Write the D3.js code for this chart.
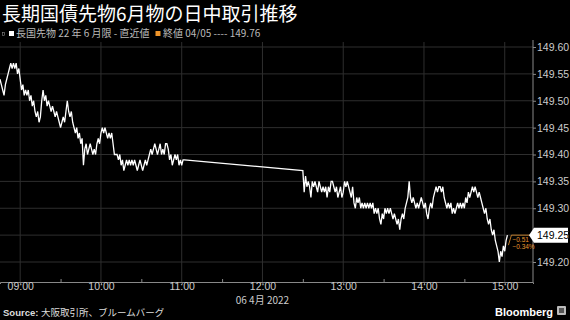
<!DOCTYPE html>
<html><head><meta charset="utf-8">
<script src="https://cdn.jsdelivr.net/npm/d3@7"></script>
<style>
html,body{margin:0;padding:0;background:#000;}
svg{display:block;}
</style></head>
<body>
<svg id="c" width="570" height="320"></svg>
<script>
// ---- data ----
const chartTitle = "長期国債先物6月物の日中取引推移";
const seriesName = "長国先物 22 年 6 月限 - 直近値";
const closeLabel = "終値 04/05 ---- 149.76";
const sourceText = "大阪取引所、ブルームバーグ";
const dateLabel = "06 4月 2022";
const prevClose = 149.76;
const yTicks = [149.20, 149.25, 149.30, 149.35, 149.40, 149.45, 149.50, 149.55, 149.60];
const xTickLabels = ["09:00","10:00","11:00","12:00","13:00","14:00","15:00"];
const amStart = "08:45";
const amValues = [
 149.54,149.53,149.52,149.51,149.53,149.54,149.55,149.56,149.57,149.56,
 149.57,149.56,149.57,149.55,149.56,149.54,149.52,149.53,149.51,149.52,
 149.51,149.52,149.50,149.51,149.49,149.50,149.48,149.47,149.48,149.46,
 149.47,149.50,149.52,149.50,149.51,149.49,149.50,149.49,149.48,149.49,
 149.48,149.47,149.48,149.47,149.46,149.45,149.46,149.47,149.46,149.48,
 149.50,149.48,149.47,149.48,149.46,149.45,149.44,149.45,149.43,149.44,
 149.42,149.43,149.38,149.41,149.42,149.40,149.41,149.42,149.41,149.40,
 149.41,149.40,149.42,149.43,149.42,149.44,149.45,149.44,149.45,149.44,
 149.43,149.44,149.43,149.44,149.42,149.40,149.40,149.40,149.39,149.40,
 149.38,149.39,149.37,149.38,149.39,149.38,149.39,149.38,149.39,149.38,
 149.39,149.38,149.37,149.38,149.39,149.38,149.37,149.38,149.39,149.38,
 149.39,149.40,149.41,149.40,149.41,149.42,149.41,149.40,149.41,149.42,
 149.40,149.41,149.40,149.42,149.42,149.41,149.39,149.40,149.38,149.39,
 149.40,149.39,149.40,149.38,149.39,149.38,149.39,149.39
];
const pmStart = "12:30";
const pmValues = [
 149.37,149.33,149.36,149.34,149.35,149.34,149.32,149.35,149.34,149.35,
 149.34,149.33,149.35,149.34,149.33,149.34,149.33,149.34,149.32,149.34,
 149.33,149.35,149.35,149.34,149.33,149.34,149.32,149.33,149.34,149.32,
 149.33,149.35,149.34,149.35,149.34,149.33,149.32,149.34,149.31,149.30,
 149.32,149.31,149.32,149.30,149.31,149.30,149.31,149.30,149.31,149.30,
 149.31,149.30,149.31,149.29,149.30,149.29,149.30,149.28,149.27,149.29,
 149.28,149.30,149.29,149.30,149.29,149.30,149.29,149.28,149.29,149.28,
 149.27,149.28,149.26,149.28,149.29,149.28,149.30,149.31,149.32,149.35,
 149.32,149.31,149.32,149.31,149.30,149.31,149.30,149.31,149.32,149.31,
 149.30,149.31,149.29,149.28,149.30,149.31,149.30,149.32,149.33,149.34,
 149.33,149.34,149.34,149.33,149.34,149.32,149.31,149.30,149.31,149.30,
 149.31,149.29,149.30,149.29,149.30,149.31,149.30,149.31,149.30,149.31,
 149.30,149.32,149.31,149.33,149.32,149.33,149.34,149.33,149.34,149.33,
 149.32,149.33,149.32,149.31,149.30,149.29,149.30,149.28,149.27,149.28,
 149.26,149.25,149.26,149.24,149.23,149.22,149.20,149.22,149.21,149.23,
 149.22,149.24,149.25
];

// ---- build ----
const day = "2022-04-06 ";
const parse = d3.timeParse("%Y-%m-%d %H:%M");
const t0 = parse(day + amStart), t1 = parse(day + pmStart);
const data = [
  ...amValues.map((v,i)=>({t:d3.timeMinute.offset(t0,i), v})),
  ...pmValues.map((v,i)=>({t:d3.timeMinute.offset(t1,i), v}))
];
const last = data[data.length-1];

const svg = d3.select("#c");
const W = 570, H = 320;
const plotL = 0, plotR = 533, plotT = 40, plotB = 282;
const x = d3.scaleTime().domain([parse(day+"08:45"), parse(day+"15:21")]).range([plotL, plotR]);
const y = d3.scaleLinear().domain([149.20, 149.60]).range([262, 47]);
const cjk = "'Noto Sans CJK JP','Noto Sans',sans-serif";
const latin = "'Liberation Sans',Arial,sans-serif";

svg.append("rect").attr("width",W).attr("height",H).attr("fill","#000");

// title
svg.append("text").attr("x",2).attr("y",20.5).attr("fill","#fff")
  .attr("font-family",cjk).attr("font-size",19).attr("font-weight",400).text(chartTitle);

// legend
svg.append("rect").attr("x",2.5).attr("y",32.5).attr("width",2).attr("height",3).attr("fill","none").attr("stroke","#888").attr("stroke-width",0.6);
svg.append("rect").attr("x",9).attr("y",31).attr("width",5).attr("height",5).attr("fill","#fff");
svg.append("text").attr("x",16).attr("y",37).attr("fill","#bbb")
  .attr("font-family",cjk).attr("font-size",10).text(seriesName);
svg.append("rect").attr("x",155.5).attr("y",31).attr("width",5).attr("height",5).attr("fill","#f0952a");
svg.append("text").attr("x",163).attr("y",37).attr("fill","#bbb")
  .attr("font-family",cjk).attr("font-size",10).text(closeLabel);

// grid
const hourTicks = xTickLabels.map(s=>parse(day+s));
svg.append("g").selectAll("line").data(hourTicks).join("line")
  .attr("x1",d=>x(d)).attr("x2",d=>x(d)).attr("y1",plotT+2).attr("y2",plotB)
  .attr("stroke","#2e2e2e").attr("stroke-width",1);
svg.append("g").selectAll("line").data(yTicks).join("line")
  .attr("x1",plotL).attr("x2",plotR).attr("y1",d=>y(d)).attr("y2",d=>y(d))
  .attr("stroke","#2e2e2e").attr("stroke-width",1);

// x axis
const halfTicks = d3.timeMinute.every(30).range(parse(day+"08:45"), parse(day+"15:21"))
  .filter(d=>d.getMinutes()===30);
const gx = svg.append("g").attr("transform",`translate(0,${plotB})`);
gx.call(d3.axisBottom(x).tickValues(hourTicks).tickFormat(d3.timeFormat("%H:%M")).tickSize(2).tickPadding(-1));
gx.append("g").call(d3.axisTop(x).tickValues(halfTicks).tickFormat("").tickSize(3));
gx.selectAll(".domain").attr("stroke","#888");
gx.selectAll("g>g").selectAll(".domain").remove();
gx.selectAll(".tick line").attr("stroke","#888");
gx.selectAll(".tick text").attr("fill","#ccc").attr("font-family",latin).attr("font-size",10.5);
svg.append("text").attr("x",x(parse(day+"12:00"))).attr("y",304).attr("text-anchor","middle")
  .attr("fill","#ccc").attr("font-family",cjk).attr("font-size",10).text(dateLabel);

// y axis (right)
const gy = svg.append("g").attr("transform",`translate(${plotR},0)`);
gy.call(d3.axisRight(y).tickValues(yTicks).tickFormat(d3.format(".2f")).tickSize(3).tickPadding(1));
gy.select(".domain").attr("d",`M0,${plotT}V${plotB}`).attr("stroke","#888");
gy.selectAll(".tick line").attr("stroke","#888");
gy.selectAll(".tick text").attr("fill","#ccc").attr("font-family",latin).attr("font-size",10.5);

// line
const line = d3.line().x(d=>x(d.t)).y(d=>y(d.v));
svg.append("path").datum(data).attr("d",line).attr("fill","none")
  .attr("stroke","#fff").attr("stroke-width",1.3).attr("stroke-linejoin","miter");

// change annotation
const lx = x(last.t), ly = y(last.v);
const orange = "#e8962e";
svg.append("path").attr("d",`M${lx+1},${ly+10}L${lx+4},${ly}H${plotR}`)
  .attr("fill","none").attr("stroke",orange).attr("stroke-width",0.8);
svg.append("text").attr("x",lx+5).attr("y",ly+6.5).attr("fill",orange)
  .attr("font-family",latin).attr("font-size",6.5).text(d3.format(".2f")(last.v-prevClose));
svg.append("text").attr("x",lx+5).attr("y",ly+14).attr("fill",orange)
  .attr("font-family",latin).attr("font-size",6.5).text(d3.format(".2f")((last.v-prevClose)/prevClose*100)+"%");

// last value box
svg.append("path").attr("d",`M${plotR-4},${ly}L${plotR+1},${ly-7.5}H568V${ly+7.5}H${plotR+1}Z`)
  .attr("fill","#fff");
svg.append("text").attr("x",plotR+4).attr("y",ly+4).attr("fill","#000")
  .attr("font-family",latin).attr("font-size",10.5).text(d3.format(".2f")(last.v));

// source
const src = svg.append("text").attr("x",3).attr("y",315.5).attr("fill","#ddd").attr("font-size",9.5);
src.append("tspan").attr("font-family",latin).attr("font-weight","bold").text("Source: ");
src.append("tspan").attr("font-family",cjk).text(sourceText);

// bloomberg
svg.append("text").attr("x",553).attr("y",315.5).attr("text-anchor","end").attr("fill","#fff")
  .attr("font-family",latin).attr("font-weight","bold").attr("font-size",11).text("Bloomberg");
svg.append("rect").attr("x",557).attr("y",306).attr("width",9).attr("height",9).attr("rx",1).attr("fill","#bbb");
svg.append("rect").attr("x",559).attr("y",308).attr("width",5).attr("height",5).attr("fill","#555");
</script>
</body></html>
